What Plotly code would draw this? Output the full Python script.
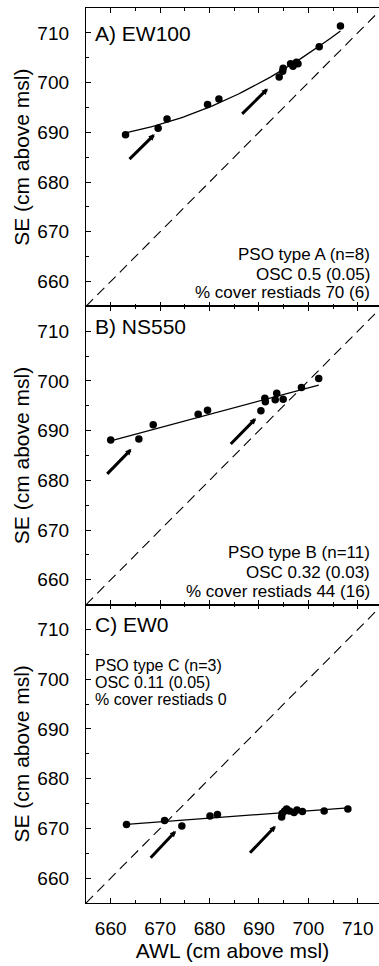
import numpy as np
import plotly.graph_objects as go

# ---- data: AWL (x) vs SE (y), cm above msl ----
awl_a = [663.0, 669.6, 671.4, 679.6, 681.9, 694.1, 694.8, 694.9, 696.4, 696.9, 697.6, 697.9, 702.2, 706.5]
se_a = [689.5, 690.8, 692.7, 695.6, 696.7, 701.1, 702.3, 702.9, 703.8, 703.3, 704.1, 703.8, 707.2, 711.4]

awl_b = [660.0, 665.7, 668.6, 677.7, 679.6, 690.4, 691.2, 691.3, 693.3, 693.6, 694.9, 698.6, 702.1]
se_b = [688.1, 688.3, 691.2, 693.3, 694.1, 694.0, 696.5, 695.8, 696.2, 697.5, 696.3, 698.7, 700.5]

awl_c = [663.2, 670.9, 674.4, 680.1, 681.6, 694.6, 694.7, 695.2, 695.6, 696.2, 697.1, 697.7, 698.8, 703.2, 708.0]
se_c = [670.8, 671.6, 670.5, 672.5, 672.8, 672.3, 673.0, 673.5, 673.9, 673.5, 673.2, 673.7, 673.4, 673.5, 673.9]

# fit order per panel (A curved, B and C linear)
fit_order = [2, 1, 1]

# seasonal-shift arrows: (x_tail, y_tail, x_head, y_head)
arrows_a = [(663.5, 684.3, 668.9, 689.6), (686.3, 693.4, 691.8, 698.8)]
arrows_b = [(659.0, 681.0, 664.2, 686.3), (684.0, 687.0, 689.4, 692.5)]
arrows_c = [(667.8, 663.8, 673.2, 669.5), (687.9, 664.8, 693.4, 670.5)]

panel_titles = ["A) EW100", "B) NS550", "C) EW0"]
panel_notes = [
    ["PSO type A (n=8)", "OSC 0.5 (0.05)", "% cover restiads 70 (6)"],
    ["PSO type B (n=11)", "OSC 0.32 (0.03)", "% cover restiads 44 (16)"],
    ["PSO type C (n=3)", "OSC 0.11 (0.05)", "% cover restiads 0"],
]

axis_lo, axis_hi = 655, 715          # SE axis limits and 1:1 reference line
x_hi_visible = 714.3                  # AWL axis upper limit
major_ticks = [660, 670, 680, 690, 700, 710]

FONT = "Liberation Sans, Arial, Helvetica, sans-serif"
W, H = 379, 966
ML, MR, MT, MB = 86, 0, 8, 63

fig = go.Figure()

datasets = [(awl_a, se_a, arrows_a), (awl_b, se_b, arrows_b), (awl_c, se_c, arrows_c)]
domains = [[2 / 3, 1.0], [1 / 3, 2 / 3], [0.0, 1 / 3]]

for i, (xs, ys, arrs) in enumerate(datasets):
    n = i + 1
    xa = "x" if n == 1 else f"x{n}"
    ya = "y" if n == 1 else f"y{n}"

    # 1:1 line
    fig.add_trace(go.Scatter(x=[axis_lo, axis_hi], y=[axis_lo, axis_hi], mode="lines",
                             line=dict(color="black", width=1.1, dash="10px,6px"),
                             xaxis=xa, yaxis=ya, showlegend=False, hoverinfo="skip"))
    # fitted relationship
    coef = np.polyfit(xs, ys, fit_order[i])
    fx = np.linspace(min(xs), max(xs), 60)
    fy = np.polyval(coef, fx)
    fig.add_trace(go.Scatter(x=fx, y=fy, mode="lines", line=dict(color="black", width=1.3),
                             xaxis=xa, yaxis=ya, showlegend=False, hoverinfo="skip"))
    # observations
    fig.add_trace(go.Scatter(x=xs, y=ys, mode="markers",
                             marker=dict(color="black", size=7.5),
                             xaxis=xa, yaxis=ya, showlegend=False))
    # arrows
    for (x0, y0, x1, y1) in arrs:
        fig.add_annotation(x=x1, y=y1, ax=x0, ay=y0, xref=xa, yref=ya, axref=xa, ayref=ya,
                           text="", showarrow=True, arrowhead=2, arrowsize=0.4,
                           arrowwidth=3, arrowcolor="black", standoff=0, startstandoff=0)

axis_common = dict(range=[axis_lo, axis_hi], ticks="inside", ticklen=4.5, tickwidth=1.1,
                   tickcolor="black", tickvals=major_ticks,
                   minor=dict(ticks="inside", ticklen=2.5, dtick=5, tick0=655, tickcolor="black"),
                   showgrid=False, zeroline=False)

layout = dict(width=W, height=H, margin=dict(l=ML, r=MR, t=MT, b=MB),
              paper_bgcolor="white", plot_bgcolor="white",
              font=dict(family=FONT, color="black"), showlegend=False)

for i in range(3):
    n = i + 1
    xk = "xaxis" if n == 1 else f"xaxis{n}"
    yk = "yaxis" if n == 1 else f"yaxis{n}"
    ya = "y" if n == 1 else f"y{n}"
    xa = "x" if n == 1 else f"x{n}"
    last = (i == 2)
    xaxis = dict(axis_common)
    xaxis.update(range=[axis_lo, x_hi_visible], anchor=ya, domain=[0, 1],
                 showline=True, linecolor="black", linewidth=1.3, mirror="ticks",
                 showticklabels=last, tickfont=dict(size=19), ticklabelstandoff=8)
    if n != 1:
        xaxis["matches"] = "x"
    if last:
        xaxis["title"] = dict(text="AWL (cm above msl)", font=dict(size=21), standoff=5)
    layout[xk] = xaxis

    yaxis = dict(axis_common)
    yaxis.update(anchor=xa, domain=domains[i], showline=True, linecolor="black", linewidth=1.3,
                 tickfont=dict(size=19), ticklabelstandoff=12,
                 title=dict(text="SE (cm above msl)", font=dict(size=21), standoff=1))
    layout[yk] = yaxis

    # right-hand tick marks
    rk = f"yaxis{n + 3}"
    raxis = dict(axis_common)
    raxis.update(overlaying=ya, side="right", anchor=xa, showline=False, showticklabels=False)
    layout[rk] = raxis

fig.update_layout(**layout)

# panel titles
title_pos = [0.913, 0.932, 0.933]
for i in range(3):
    n = i + 1
    xa = "x" if n == 1 else f"x{n}"
    ya = "y" if n == 1 else f"y{n}"
    fig.add_annotation(text=panel_titles[i], xref=f"{xa} domain", yref=f"{ya} domain",
                       x=0.024, y=title_pos[i], xanchor="left", yanchor="middle",
                       showarrow=False, font=dict(size=21))

# panel notes
note_layout = [
    (0.975, "right", [0.175, 0.108, 0.045], 17),
    (0.975, "right", [0.174, 0.107, 0.044], 17),
    (0.023, "left", [0.797, 0.740, 0.683], 16),
]
for i in range(3):
    n = i + 1
    xa = "x" if n == 1 else f"x{n}"
    ya = "y" if n == 1 else f"y{n}"
    xpos, anchor, ypos, fsize = note_layout[i]
    for line, yy in zip(panel_notes[i], ypos):
        fig.add_annotation(text=line, xref=f"{xa} domain", yref=f"{ya} domain",
                           x=xpos, y=yy, xanchor=anchor, yanchor="middle",
                           showarrow=False, font=dict(size=fsize))

fig.write_html("out.html")
